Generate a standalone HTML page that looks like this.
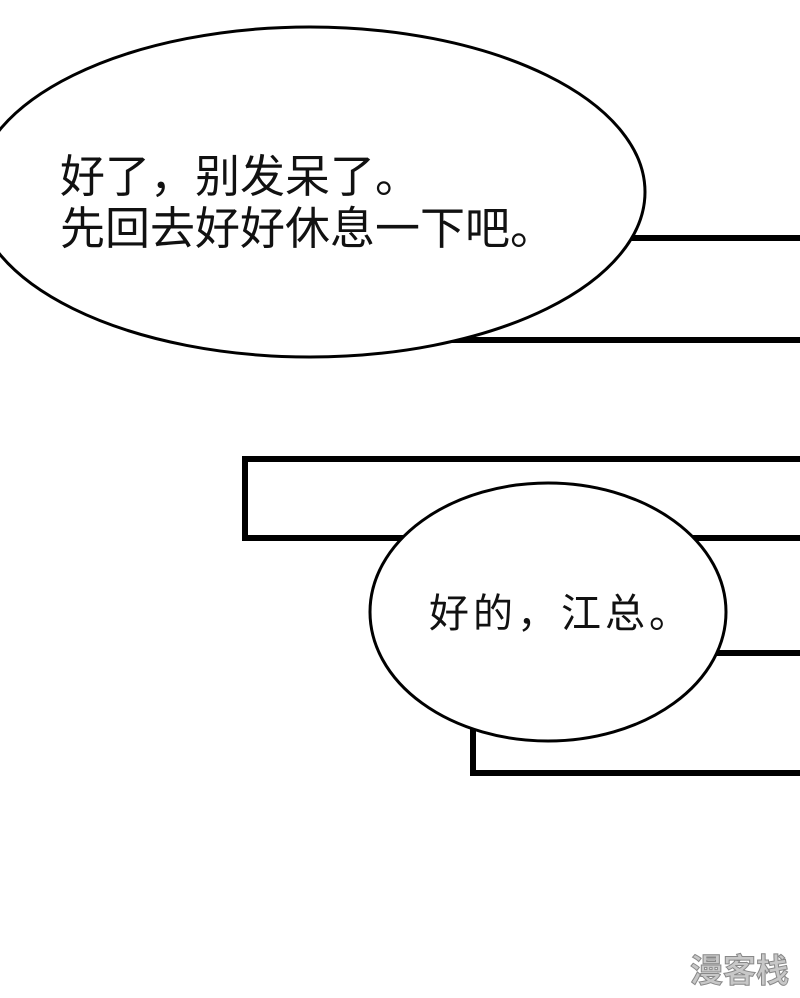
<!DOCTYPE html>
<html><head><meta charset="utf-8"><style>
html,body{margin:0;padding:0;background:#fff;}
svg{display:block;}
text{font-family:"Noto Sans CJK SC",sans-serif;fill:#111;}
</style></head><body>
<svg width="800" height="998" viewBox="0 0 800 998" xmlns="http://www.w3.org/2000/svg">
<rect x="0" y="0" width="800" height="998" fill="#fff"/>
<rect x="300" y="238" width="520" height="102" fill="#fff" stroke="#000" stroke-width="6"/>
<ellipse cx="310" cy="192" rx="335" ry="165" fill="#fff" stroke="#000" stroke-width="3"/>
<text y="192" font-size="45" x="60 105 150 195 240 285 330 375">好了，别发呆了。</text>
<text y="244" font-size="45" x="60 105 150 195 240 285 330 375 420 465 510">先回去好好休息一下吧。</text>
<rect x="245" y="459" width="580" height="79" fill="#fff" stroke="#000" stroke-width="6"/>
<rect x="473" y="653" width="350" height="120" fill="#fff" stroke="#000" stroke-width="6"/>
<ellipse cx="548" cy="612" rx="178" ry="129" fill="#fff" stroke="#000" stroke-width="3"/>
<text y="627" font-size="40" x="429 473 517 561 605 649">好的，江总。</text>
<text x="690" y="982" font-size="33" font-weight="bold" style="fill:#c8c8c8;stroke:#888;stroke-width:1">漫客栈</text>
</svg>
</body></html>
